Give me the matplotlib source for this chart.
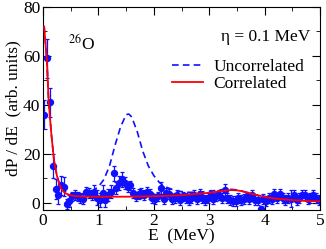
import matplotlib
matplotlib.use("Agg")
import matplotlib.pyplot as plt
from matplotlib.ticker import MultipleLocator

plt.rcParams["font.family"] = ["Liberation Serif", "DejaVu Serif"]
plt.rcParams["mathtext.fontset"] = "stix"

# measured spectrum (bin centres, MeV)
e_data = [0.025, 0.075, 0.125, 0.175, 0.225, 0.275, 0.325, 0.375, 0.425, 0.475,
          0.525, 0.575, 0.625, 0.675, 0.725, 0.775, 0.825, 0.875, 0.925, 0.975,
          1.025, 1.075, 1.125, 1.175, 1.225, 1.275, 1.325, 1.375, 1.425, 1.475,
          1.525, 1.575, 1.625, 1.675, 1.725, 1.775, 1.825, 1.875, 1.925, 1.975,
          2.025, 2.075, 2.125, 2.175, 2.225, 2.275, 2.325, 2.375, 2.425, 2.475,
          2.525, 2.575, 2.625, 2.675, 2.725, 2.775, 2.825, 2.875, 2.925, 2.975,
          3.025, 3.075, 3.125, 3.175, 3.225, 3.275, 3.325, 3.375, 3.425, 3.475,
          3.525, 3.575, 3.625, 3.675, 3.725, 3.775, 3.825, 3.875, 3.925, 3.975,
          4.025, 4.075, 4.125, 4.175, 4.225, 4.275, 4.325, 4.375, 4.425, 4.475,
          4.525, 4.575, 4.625, 4.675, 4.725, 4.775, 4.825, 4.875, 4.925, 4.975]
y_data = [36, 59, 41, 15, 5.5, 3, 7, 6.5, -0.5, 0.5,
          2.5, 3, 2.5, 2, 1.5, 4.5, 4, 3, 4.5, 2,
          1, 4, 1, 3, 4.5, 12, 6, 8, 9.5, 8,
          6.5, 7, 4, 2.5, 3.5, 4, 3, 4.5, 3.5, 2,
          1.5, 2.5, 6, 1.5, 4, 3.5, 1.5, 2, 3, 1,
          2.5, 2, 1, 2, 3, 1.5, 3.5, 2, 1, 2,
          3, 1.5, 2.5, 3, 2, 5, 2, 1, 0.5, 0.5,
          2, 1, 1.5, 2.5, 1.5, 3, 1, 1, -2.8, 1.5,
          0.5, 2, 1.5, 3.5, 2, 3.5, 2, 1, 2, 1.5,
          3, 1, 2, 3, 3, 1.5, 2, 3, 2, 1]
y_err = [6, 8, 6, 5, 4, 3.5, 4, 4, 2, 2.5,
         2, 2, 2, 2, 2, 2, 2, 2, 2.5, 3,
         3, 3, 3, 2.5, 2.5, 3, 2.5, 3, 3, 2.5,
         2, 2, 2, 2, 2, 2, 2, 2, 2, 2,
         2, 2, 2.5, 2, 2, 2, 2, 2, 2, 2,
         2, 2, 2, 2, 2, 2, 2, 2, 2, 2,
         2, 2, 2, 2, 2, 2.5, 2, 2, 2, 2,
         2, 2, 2, 2, 2, 2, 2, 2, 1.5, 2,
         2, 2, 2, 2, 2, 2, 2, 2, 2, 3.5,
         2, 2, 2, 2, 2, 2, 2, 2, 2, 2]

# correlated calculation
e_corr = [0.02, 0.07, 0.1, 0.15, 0.2, 0.25, 0.3, 0.35, 0.4, 0.5, 0.6, 0.8, 1.0,
          1.5, 2.0, 2.5, 2.8, 3.0, 3.2, 3.4, 3.5, 3.6, 3.8, 4.0, 4.2, 4.5, 4.8, 5.0]
y_corr = [72, 58, 42, 28, 17, 11, 7, 5, 3.8, 3.0, 2.6, 2.4, 2.4,
          2.4, 2.6, 3.0, 3.6, 4.0, 4.7, 5.1, 5.0, 4.6, 3.4, 2.3, 1.6, 1.0, 0.6, 0.5]

# uncorrelated calculation
e_unc = [0.02, 0.07, 0.1, 0.15, 0.2, 0.25, 0.3, 0.4, 0.5, 0.6, 0.7, 0.8, 0.9,
         1.0, 1.1, 1.2, 1.3, 1.4, 1.5, 1.55, 1.6, 1.7, 1.8, 1.9, 2.0, 2.1, 2.2,
         2.4, 2.6, 2.8, 3.0, 3.2, 3.35, 3.5, 3.7, 3.9, 4.2, 4.5, 5.0]
y_unc = [72, 58, 42, 28, 17, 11, 7.5, 4.5, 3.5, 3.3, 3.5, 4.0, 4.8,
         6.5, 9.5, 15, 23.5, 31, 36, 36.2, 35, 29, 21, 15, 11, 8.2, 6.5,
         4.8, 4.2, 4.2, 4.6, 5.2, 5.5, 5.2, 4.0, 2.8, 1.8, 1.2, 0.7]

fig = plt.figure(figsize=(3.26, 2.49), dpi=100)
ax = fig.add_axes([0.132, 0.157, 0.85, 0.815])

ax.errorbar(e_data, y_data, yerr=y_err, fmt="o", color="#1010ff", ms=4.3,
            elinewidth=0.9, capsize=1.5, capthick=0.9, zorder=2)
ax.plot(e_unc, y_unc, color="#1010ff", lw=1.2, dashes=(4, 2.5),
        label="Uncorrelated", zorder=3)
ax.plot(e_corr, y_corr, "-", color="red", lw=1.3, label="Correlated", zorder=4)

ax.set_xlim(0, 5)
ax.set_ylim(-3, 80)
ax.xaxis.set_major_locator(MultipleLocator(1))
ax.xaxis.set_minor_locator(MultipleLocator(0.5))
ax.yaxis.set_major_locator(MultipleLocator(20))
ax.yaxis.set_minor_locator(MultipleLocator(10))
ax.tick_params(which="both", direction="in", top=True, right=True, labelsize=12.5)
ax.tick_params(which="major", length=6, pad=2)
ax.tick_params(which="minor", length=3)
ax.set_xlabel("E  (MeV)", fontsize=12.5, labelpad=0)
ax.set_ylabel("dP / dE  (arb. units)", fontsize=12.5, labelpad=1)

ax.text(0.09, 0.79, "$^{26}$O", transform=ax.transAxes, fontsize=12.5)
ax.text(0.965, 0.83, "η = 0.1 MeV", transform=ax.transAxes, fontsize=12.5, ha="right")
ax.legend(loc="upper left", bbox_to_anchor=(0.465, 0.745), frameon=False, fontsize=12.5,
          handlelength=1.8, handletextpad=0.6, labelspacing=0.05, borderpad=0,
          borderaxespad=0)

fig.savefig("out.png", dpi=100)
